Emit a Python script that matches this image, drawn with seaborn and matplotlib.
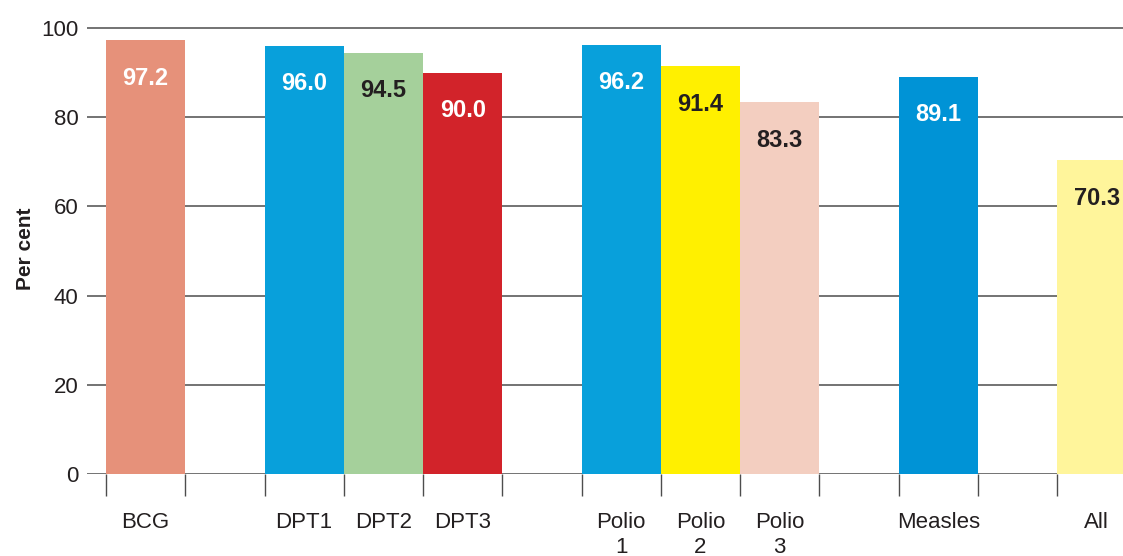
import numpy as np
import pandas as pd
import seaborn as sns
import matplotlib.pyplot as plt

# slots on the x axis, the blank ones are the gaps between groups
slot_order = ["BCG", "", "DPT1", "DPT2", "DPT3", " ", "Polio\n1", "Polio\n2", "Polio\n3",
              "  ", "Measles", "   ", "All"]
vaccines = ["BCG", "DPT1", "DPT2", "DPT3", "Polio\n1", "Polio\n2", "Polio\n3", "Measles", "All"]
coverage = [97.2, 96.0, 94.5, 90.0, 96.2, 91.4, 83.3, 89.1, 70.3]
bar_colors = ["#E6917A", "#08A0DB", "#A5D09B", "#D2232A", "#08A0DB", "#FFF000", "#F3CEC0",
              "#0093D6", "#FFF59B"]
label_colors = ["white", "white", "#231F20", "white", "white", "#231F20", "#231F20",
                "white", "#231F20"]

sns.set_theme(style="white")
plt.rcParams['font.family'] = ['Liberation Sans', 'DejaVu Sans']

df = pd.DataFrame({"vaccine": vaccines, "coverage": coverage})

fig = plt.figure(figsize=(11.23, 5.56), dpi=100)
ax = fig.add_axes([87 / 1123, (556 - 474) / 556, (1123 - 87) / 1123, (474 - 28 + 4.46) / 556])

sns.barplot(data=df, x="vaccine", y="coverage", order=slot_order, hue="vaccine",
            palette=dict(zip(vaccines, bar_colors)), width=1.0, saturation=1,
            legend=False, ax=ax, linewidth=0)

# 数值标签
for name, val, col in zip(vaccines, coverage, label_colors):
    xi = slot_order.index(name)
    ax.text(xi, val - 8.5, f"{val:.1f}", ha="center", va="center", fontsize=17,
            fontweight="bold", color=col)

ax.set_yticks(range(0, 101, 20))
ax.grid(axis="y", color="#4D4D4D", linewidth=1.1)
ax.set_axisbelow(True)
for s in ax.spines.values():
    s.set_visible(False)

ax.set_xticks(range(len(slot_order)))
ax.set_xticklabels(slot_order, linespacing=1.3)
ax.set_xticks(np.arange(-0.5, len(slot_order)), minor=True)
ax.tick_params(axis="x", which="major", length=0, pad=27, labelsize=16, labelcolor="#231F20")
ax.tick_params(axis="x", which="minor", length=16, width=1.0, color="#4D4D4D", bottom=True,
               direction="out")
ax.tick_params(axis="y", length=0, pad=6, labelsize=16, labelcolor="#231F20")

# set limits after the ticks, set_xticks widens the view otherwise
ax.set_ylim(0, 101)
ax.set_xlim(-0.74, 12.33)

ax.set_xlabel("")
ax.set_ylabel("Per cent", fontsize=15, fontweight="bold", color="#231F20")
ax.yaxis.set_label_coords(-0.05, 0.5)

plt.savefig("out.png", dpi=100)
